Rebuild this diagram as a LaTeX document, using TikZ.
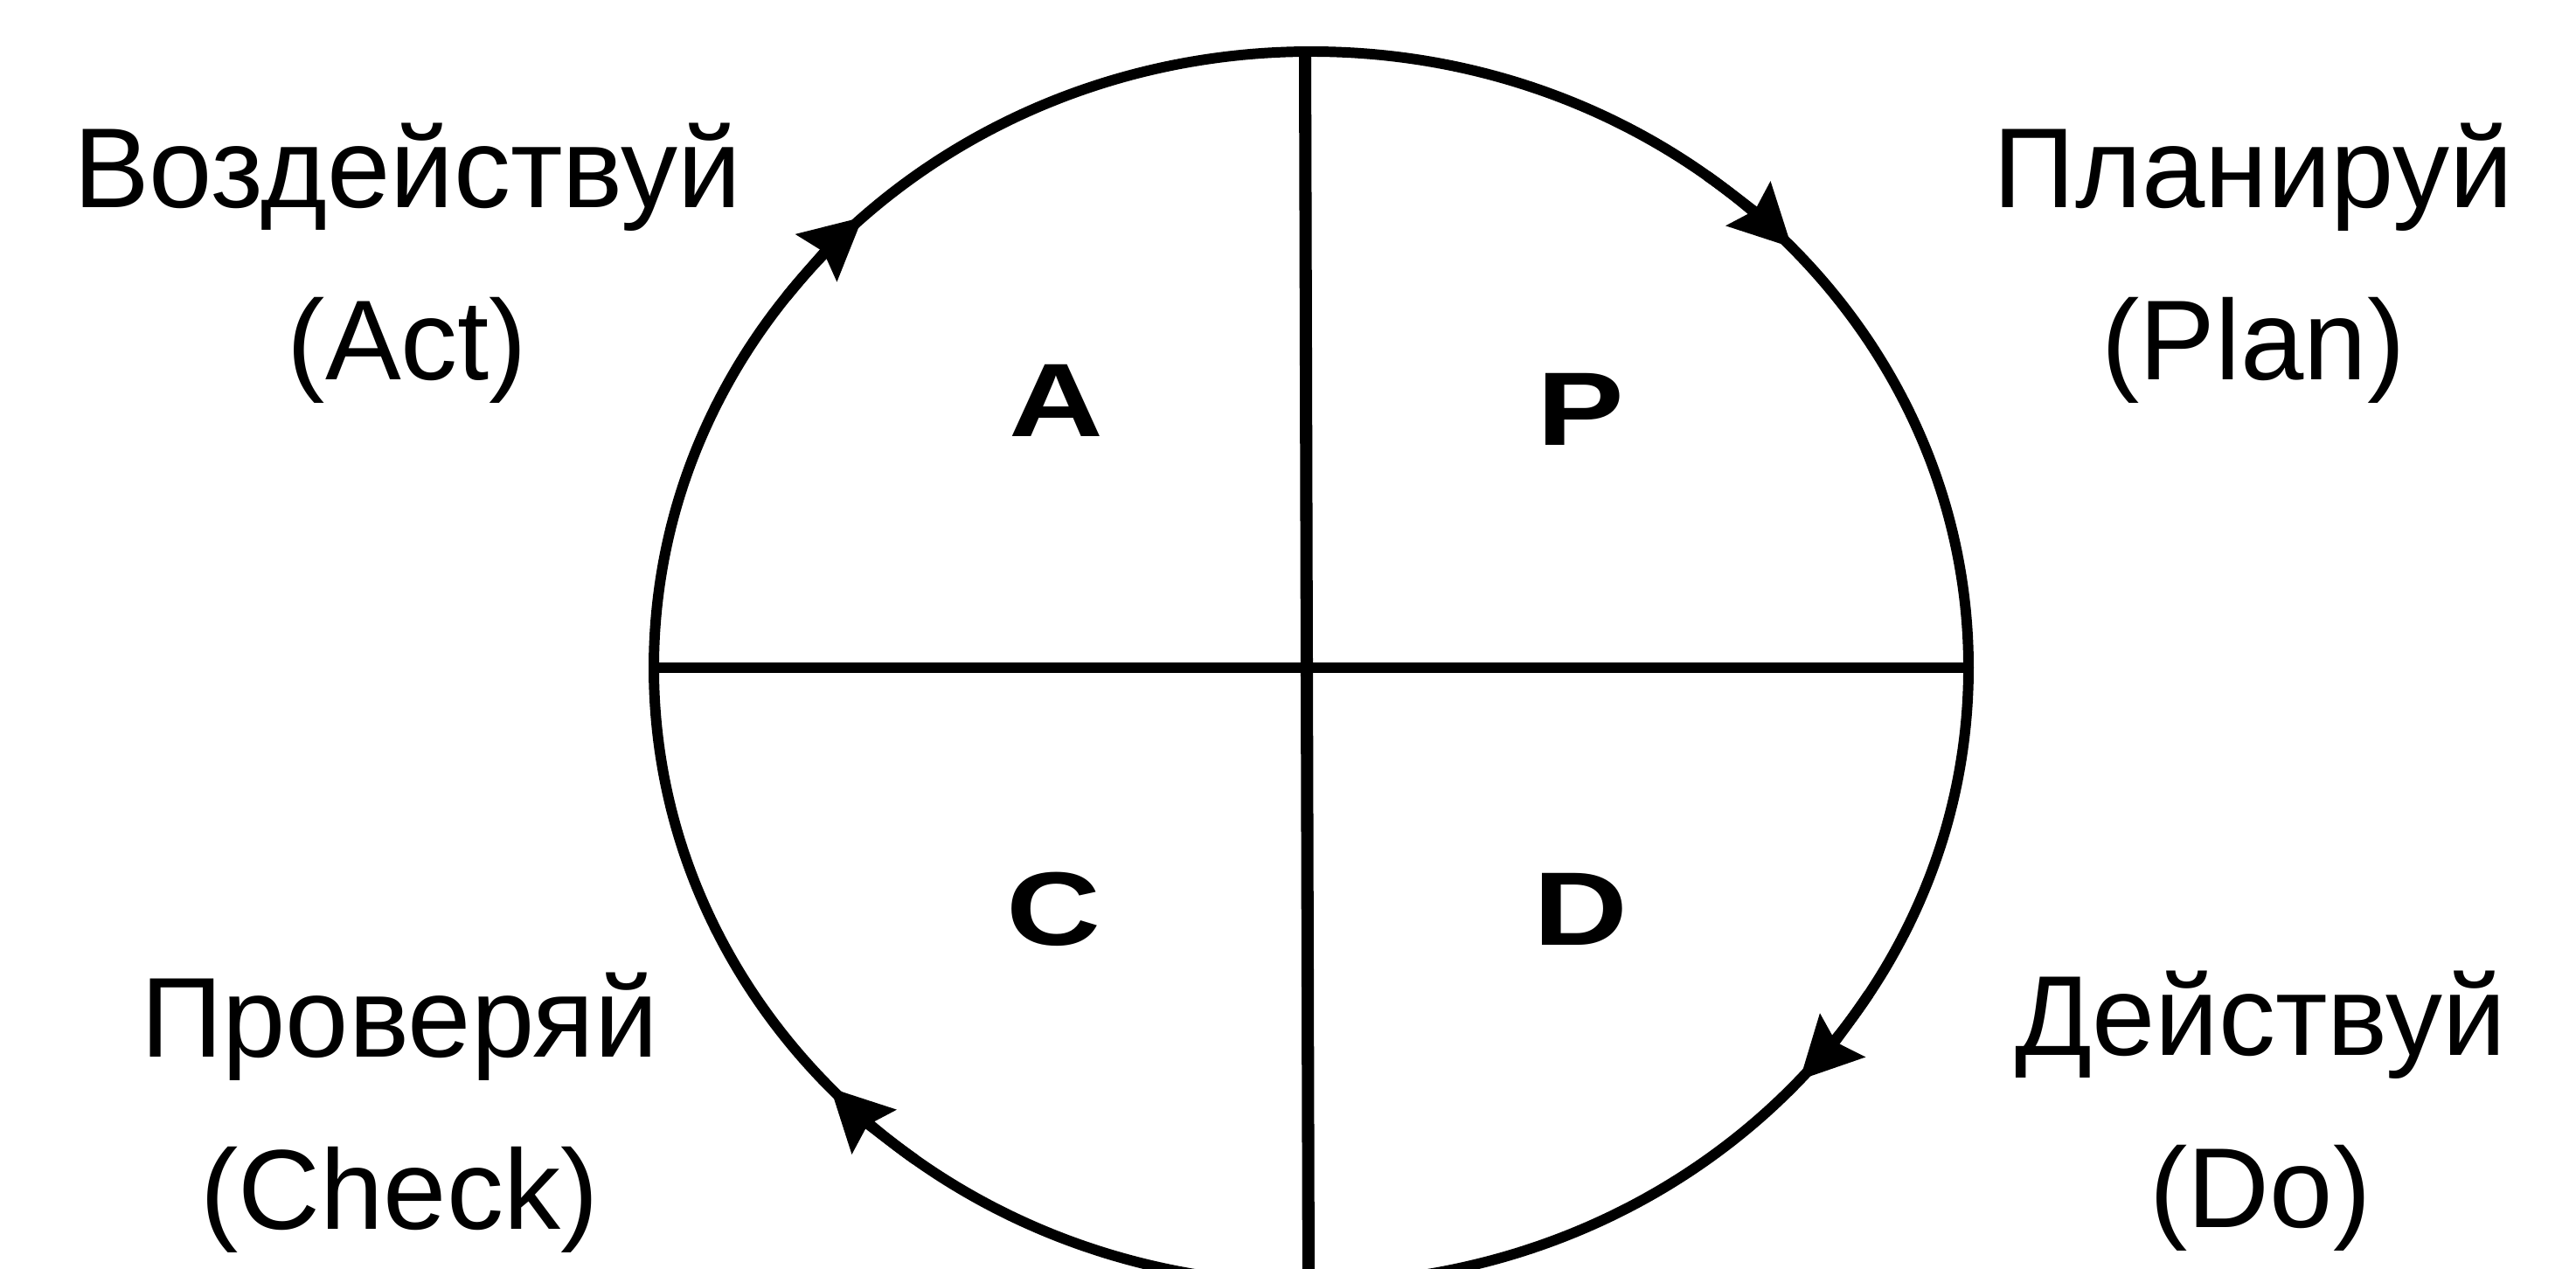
\documentclass[tikz,border=0pt]{standalone}
\usepackage{fontspec}
\setmainfont{Liberation Sans}
\newfontfamily\quadfont[FakeStretch=1.25]{Liberation Sans}
\usetikzlibrary{arrows.meta}

\tikzset{
  stage/.style={align=center,inner sep=0pt,font=\fontsize{37}{56}\selectfont},
  quad/.style={inner sep=0pt,font=\quadfont\bfseries\fontsize{34}{40}\selectfont},
  rim/.style={line width=3.4pt},
  turn/.style={line width=3.4pt,-{Stealth[length=7mm,width=7mm,inset=1mm]}},
}

\begin{document}
\begin{tikzpicture}
\useasboundingbox (0,0) rectangle (29.47,14.51);
\coordinate (O) at (15,6.87);
\coordinate (N) at (14.93,13.92);
\coordinate (S) at (14.97,-0.3);
\coordinate (W) at (7.48,6.87);
\coordinate (E) at (22.52,6.87);
% the cycle
\draw[rim] (O) ellipse [x radius=7.52, y radius=7.05];
\draw[line width=4pt] (N) -- (S);
\draw[line width=3.2pt] (W) -- (E);
\foreach \t in {43,-42,-137,133} {
  \draw[turn] (O) ++({\t+10}:7.52 and 7.05) arc[start angle=\t+10, end angle=\t, x radius=7.52, y radius=7.05];
}
% quarters
\node[quad] (qa) at (12.08,9.93) {A};
\node[quad] (qp) at (18.08,9.83) {P};
\node[quad] (qc) at (12.05,4.11) {C};
\node[quad] (qd) at (18.08,4.11) {D};
% stages
\node[stage] (act) at (4.66,11.50) {Воздействуй\\(Act)};
\node[stage] (plan) at (25.78,11.50) {Планируй\\(Plan)};
\node[stage] (check) at (4.57,1.78) {Проверяй\\(Check)};
\node[stage] (do) at (25.86,1.80) {Действуй\\(Do)};
\end{tikzpicture}
\end{document}
